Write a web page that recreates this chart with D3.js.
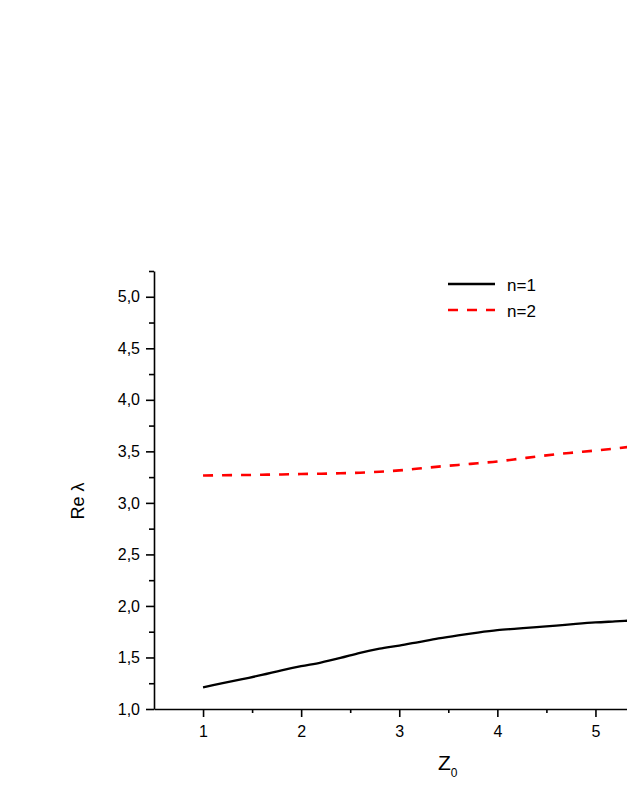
<!DOCTYPE html>
<html>
<head>
<meta charset="utf-8">
<script src="https://cdn.jsdelivr.net/npm/d3@7"></script>
<style>
	html, body { margin: 0; padding: 0; background: #fff; overflow: hidden; }
	svg { display: block; }
	text { font-family: "Liberation Sans", Arial, sans-serif; fill: #000; }
</style>
</head>
<body>
<div id="chart"></div>
<script>
// Z0 values (x)
const z0 = [1.0, 1.2, 1.4, 1.6, 1.8, 2.0, 2.2, 2.4, 2.6, 2.8, 3.0, 3.2, 3.4, 3.6, 3.8, 4.0, 4.2, 4.4, 4.6, 4.8, 5.0, 5.2, 5.4];
// Re lambda, n=1
const reN1 = [1.21, 1.25, 1.29, 1.33, 1.375, 1.415, 1.45, 1.495, 1.545, 1.585, 1.615, 1.65, 1.685, 1.715, 1.742, 1.765, 1.78, 1.795, 1.81, 1.826, 1.84, 1.85, 1.86];
// Re lambda, n=2
const reN2 = [3.265, 3.268, 3.27, 3.273, 3.276, 3.28, 3.283, 3.287, 3.293, 3.302, 3.315, 3.333, 3.352, 3.368, 3.385, 3.402, 3.425, 3.45, 3.472, 3.49, 3.508, 3.527, 3.55];

const xTicks = [1, 2, 3, 4, 5];
const xMinor = [1.5, 2.5, 3.5, 4.5, 5.5];
const yTicks = [1.0, 1.5, 2.0, 2.5, 3.0, 3.5, 4.0, 4.5, 5.0];
const yMinor = [1.25, 1.75, 2.25, 2.75, 3.25, 3.75, 4.25, 4.75, 5.25];

const seriesNames = ["n=1", "n=2"];

var width = 820, height = 811;
var margin = {left: 154, top: 271, bottom: 102};

var svg = d3.select('#chart').append('svg')
	.attr('width', width)
	.attr('height', height);

var x = d3.scaleLinear().domain([0.5, 7]).range([margin.left, margin.left + 6.5 * 98.1]);
var y = d3.scaleLinear().domain([1, 5.25]).range([height - margin.bottom, margin.top]);

var fmt = d3.format(".1f");

// minor ticks
svg.append("g")
	.attr("transform", "translate(0," + y(1) + ")")
	.call(d3.axisBottom(x).tickValues(xMinor).tickSize(4).tickFormat(""))
	.call(g => g.select(".domain").remove());
svg.append("g")
	.attr("transform", "translate(" + x(0.5) + ",0)")
	.call(d3.axisLeft(y).tickValues(yMinor).tickSize(5).tickFormat(""))
	.call(g => g.select(".domain").remove());

// major axes
svg.append("g")
	.attr("transform", "translate(0," + y(1) + ")")
	.call(d3.axisBottom(x).tickValues(xTicks).tickSizeInner(8).tickSizeOuter(0).tickPadding(9).tickFormat(d3.format("d")));
svg.append("g")
	.attr("transform", "translate(" + x(0.5) + ",0)")
	.call(d3.axisLeft(y).tickValues(yTicks).tickSizeInner(8).tickSizeOuter(0).tickPadding(6)
		.tickFormat(d => fmt(d).replace(".", ",")));

svg.selectAll(".tick line, .domain").attr("stroke", "#000").attr("stroke-width", 1.6);
svg.selectAll(".tick text")
	.attr("font-size", 16)
	.style("font-size", "16px")
	.style("font-family", "'Liberation Sans', Arial, sans-serif");

// lines
var line = d3.line()
	.curve(d3.curveMonotoneX)
	.x((d, i) => x(z0[i]))
	.y(d => y(d));

svg.append("path")
	.datum(reN1)
	.attr("d", line)
	.attr("fill", "none")
	.attr("stroke", "#000")
	.attr("stroke-width", 2.3);

svg.append("path")
	.datum(reN2)
	.attr("d", line)
	.attr("fill", "none")
	.attr("stroke", "#ff0000")
	.attr("stroke-width", 2.6)
	.attr("stroke-dasharray", "10,9");

// legend
var legend = svg.append("g").attr("transform", "translate(448,284)");
seriesNames.forEach((name, i) => {
	var row = legend.append("g").attr("transform", "translate(0," + (i * 26) + ")");
	row.append("line")
		.attr("x1", 0).attr("x2", 47)
		.attr("y1", 0).attr("y2", 0)
		.attr("stroke", i === 0 ? "#000" : "#ff0000")
		.attr("stroke-width", i === 0 ? 2.3 : 2.6)
		.attr("stroke-dasharray", i === 0 ? null : "10,9");
	row.append("text")
		.attr("x", 59)
		.attr("y", 7)
		.style("font-size", "17px")
		.text(name);
});

// axis titles
var xt = svg.append("text")
	.attr("x", 438)
	.attr("y", 770)
	.style("font-size", "21px");
xt.append("tspan").text("Z");
xt.append("tspan").attr("dy", 7).style("font-size", "12px").text("0");

svg.append("text")
	.attr("transform", "translate(84,501) rotate(-90)")
	.style("text-anchor", "middle")
	.style("font-size", "18px")
	.text("Re \u03bb");
</script>
</body>
</html>
